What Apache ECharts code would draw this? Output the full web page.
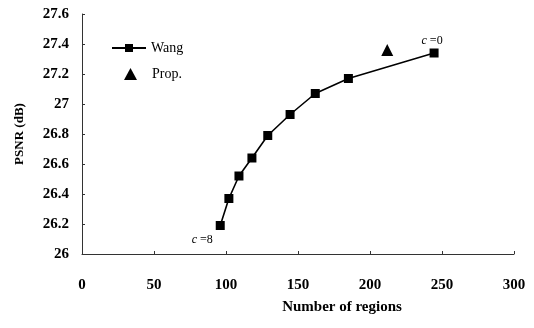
<!DOCTYPE html>
<html><head><meta charset="utf-8">
<script src="https://cdn.jsdelivr.net/npm/echarts@6/dist/echarts.min.js"></script>
<style>html,body{margin:0;padding:0;background:#fff}#c{width:534px;height:328px}</style>
</head><body><div id="c"></div>
<script>
var wangX = [96, 102, 109, 118, 129, 144.5, 162, 185, 244.5];
var wangY = [26.19, 26.37, 26.52, 26.64, 26.79, 26.93, 27.07, 27.17, 27.34];
var propX = [212];
var propY = [27.36];
var xTicks = [0, 50, 100, 150, 200, 250, 300];
var yTicks = [26, 26.2, 26.4, 26.6, 26.8, 27, 27.2, 27.4, 27.6];
var font = 'Liberation Serif';

var wangData = wangX.map(function (x, i) {
  var item = { value: [x, wangY[i]] };
  if (i === wangX.length - 1) item.label = { show: true, position: 'top', offset: [-2, 3], formatter: '{i|c}{n| =0}' };
  if (i === 0) item.label = { show: true, position: 'bottom', offset: [-18, -1], formatter: '{i|c}{n| =8}' };
  return item;
});
var propData = propX.map(function (x, i) { return [x, propY[i]]; });
var labelRich = {
  i: { fontFamily: font, fontStyle: 'italic', fontSize: 12, color: '#000' },
  n: { fontFamily: font, fontSize: 12, color: '#000' }
};

var chart = echarts.init(document.getElementById('c'));
chart.setOption({
  animation: false,
  backgroundColor: '#fff',
  grid: { left: 82, right: 20, top: 14, bottom: 74 },
  legend: [
    {
      orient: 'vertical', left: 106, top: 36, itemWidth: 34, itemHeight: 10,
      textStyle: { fontFamily: font, fontSize: 14, color: '#000' },
      data: ['Wang']
    },
    {
      orient: 'vertical', left: 119, top: 62, itemWidth: 13, itemHeight: 12,
      textStyle: { fontFamily: font, fontSize: 14, color: '#000', padding: [0, 0, 0, 10] },
      itemStyle: { opacity: 1, color: '#000' },
      data: [{ name: 'Prop.', icon: 'triangle' }]
    }
  ],
  xAxis: {
    type: 'value', min: 0, max: 300, interval: 50,
    name: 'Number of regions', nameLocation: 'middle', nameGap: 46,
    nameTextStyle: { fontFamily: font, fontSize: 15, fontWeight: 'bold', color: '#000', padding: [0, 0, 0, 88] },
    axisLine: { lineStyle: { color: '#333', width: 1 } },
    axisTick: { inside: true, length: 3, lineStyle: { color: '#333' } },
    axisLabel: { margin: 24, fontFamily: font, fontSize: 15, fontWeight: 'bold', color: '#000',
      formatter: function (v) { return xTicks.indexOf(v) >= 0 ? String(v) : ''; } },
    splitLine: { show: false }
  },
  yAxis: {
    type: 'value', min: 26, max: 27.6, interval: 0.2,
    name: 'PSNR (dB)', nameLocation: 'middle', nameGap: 56,
    nameTextStyle: { fontFamily: font, fontSize: 13, fontWeight: 'bold', color: '#000' },
    axisLine: { show: true, lineStyle: { color: '#333', width: 1 } },
    axisTick: { show: true, inside: true, length: 3, lineStyle: { color: '#333' } },
    axisLabel: { margin: 13, fontFamily: font, fontSize: 15, fontWeight: 'bold', color: '#000',
      formatter: function (v) {
        var r = Math.round(v * 10) / 10;
        return yTicks.indexOf(r) >= 0 ? String(r) : '';
      } },
    splitLine: { show: false }
  },
  series: [
    {
      name: 'Wang', type: 'line', data: wangData,
      symbol: 'rect', symbolSize: 9,
      lineStyle: { color: '#000', width: 1.6 },
      itemStyle: { color: '#000' },
      label: { rich: labelRich },
      z: 3
    },
    {
      name: 'Prop.', type: 'scatter', data: propData,
      symbol: 'triangle', symbolSize: 12,
      itemStyle: { color: '#000', opacity: 1 }
    }
  ]
});
</script></body></html>
